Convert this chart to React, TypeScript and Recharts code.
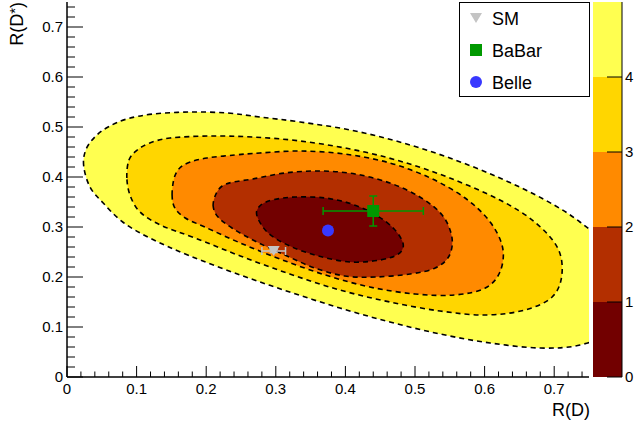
import React from 'react';
import { Bar, BarChart, ErrorBar, Label, Scatter, ScatterChart, XAxis, YAxis } from 'recharts';

const FONT = '"Liberation Sans", Arial, Helvetica, sans-serif';

// colour scale (sigma levels) of the contour plot
const levels = [0, 1, 2, 3, 4];
const levelColors = ['#720000', '#b32f00', '#ff8a00', '#ffd600', '#ffff50'];

// contour lines, [R(D), R(D*)], outer first
const contour4 = [
  [0.024, 0.422], [0.027, 0.454], [0.040, 0.48], [0.059, 0.5], [0.086, 0.516], [0.124, 0.526],
  [0.177, 0.53], [0.23, 0.528], [0.277, 0.52], [0.335, 0.51], [0.407, 0.494], [0.478, 0.47],
  [0.55, 0.438], [0.622, 0.398], [0.687, 0.354], [0.737, 0.31], [0.78, 0.254], [0.795, 0.174],
  [0.78, 0.094], [0.737, 0.064], [0.68, 0.058], [0.608, 0.068], [0.536, 0.086], [0.464, 0.11],
  [0.392, 0.138], [0.32, 0.17], [0.249, 0.204], [0.177, 0.242], [0.119, 0.278], [0.08, 0.31],
  [0.052, 0.348], [0.033, 0.38],
];
const contour3 = [
  [0.086, 0.398], [0.089, 0.434], [0.101, 0.454], [0.119, 0.468], [0.148, 0.478], [0.205, 0.482],
  [0.267, 0.48], [0.335, 0.472], [0.407, 0.456], [0.478, 0.432], [0.55, 0.398], [0.622, 0.354],
  [0.672, 0.31], [0.705, 0.258], [0.711, 0.204], [0.697, 0.16], [0.658, 0.134], [0.601, 0.124],
  [0.536, 0.132], [0.464, 0.15], [0.392, 0.174], [0.32, 0.206], [0.249, 0.242], [0.184, 0.278],
  [0.134, 0.304], [0.105, 0.33], [0.091, 0.362],
];
const contour2 = [
  [0.151, 0.364], [0.154, 0.398], [0.162, 0.418], [0.177, 0.43], [0.201, 0.438], [0.241, 0.444],
  [0.277, 0.448], [0.335, 0.452], [0.399, 0.446], [0.464, 0.428], [0.522, 0.398], [0.572, 0.358],
  [0.608, 0.31], [0.626, 0.258], [0.622, 0.21], [0.601, 0.178], [0.557, 0.164], [0.5, 0.166],
  [0.435, 0.18], [0.371, 0.204], [0.306, 0.236], [0.249, 0.268], [0.198, 0.3], [0.17, 0.318],
  [0.155, 0.338],
];
const contour1 = [
  [0.21, 0.342], [0.214, 0.366], [0.223, 0.382], [0.239, 0.39], [0.267, 0.396], [0.313, 0.408],
  [0.364, 0.412], [0.414, 0.406], [0.464, 0.388], [0.507, 0.36], [0.539, 0.324], [0.553, 0.28],
  [0.549, 0.242], [0.529, 0.218], [0.493, 0.206], [0.443, 0.2], [0.399, 0.202], [0.356, 0.218],
  [0.313, 0.244], [0.27, 0.272], [0.237, 0.298], [0.217, 0.32],
];
const contour0 = [
  [0.273, 0.322], [0.277, 0.342], [0.295, 0.354], [0.328, 0.36], [0.371, 0.358], [0.409, 0.346],
  [0.444, 0.324], [0.47, 0.296], [0.483, 0.266], [0.476, 0.246], [0.45, 0.234], [0.407, 0.23],
  [0.361, 0.242], [0.32, 0.262], [0.289, 0.288],
];
const contours = [contour4, contour3, contour2, contour1, contour0];
const contourColors = [levelColors[4], levelColors[3], levelColors[2], levelColors[1], levelColors[0]];

// measurements
const pointNames = ['SM', 'BaBar', 'Belle'];
const rD = [0.297, 0.44, 0.375];
const rDErr = [0.017, 0.072, 0];
const rDstar = [0.252, 0.332, 0.293];
const rDstarErr = [0.003, 0.03, 0];
const pointColors = ['#c4c4c4', '#009900', '#3838ff'];

const axisTicks = Array.from({ length: 38 }, (_, i) => Number((i * 0.02).toFixed(2)));
const isMajor = (v: number) => Math.abs(v * 10 - Math.round(v * 10)) < 1e-6;
const fmt = (v: number) => (v === 0 ? '0' : String(Number(v.toFixed(1))));

const closedPath = (pts: { x: number; y: number }[]) => {
  const n = pts.length;
  if (!n) return '';
  let d = `M${pts[0].x},${pts[0].y}`;
  for (let i = 0; i < n; i++) {
    const p0 = pts[(i - 1 + n) % n];
    const p1 = pts[i];
    const p2 = pts[(i + 1) % n];
    const p3 = pts[(i + 2) % n];
    d += ` C${p1.x + (p2.x - p0.x) / 6},${p1.y + (p2.y - p0.y) / 6} ${p2.x - (p3.x - p1.x) / 6},${p2.y - (p3.y - p1.y) / 6} ${p2.x},${p2.y}`;
  }
  return d + 'Z';
};

const Marker = ({ name, cx, cy, color }: { name: string; cx: number; cy: number; color: string }) => {
  if (name === 'SM') {
    return <polygon points={`${cx - 6},${cy - 5} ${cx + 6},${cy - 5} ${cx},${cy + 5}`} fill={color} />;
  }
  if (name === 'BaBar') {
    return <rect x={cx - 6} y={cy - 6} width={12} height={12} fill={color} />;
  }
  return <circle cx={cx} cy={cy} r={6} fill={color} />;
};

const XTick = (props: any) => {
  const { x, y, payload } = props;
  const major = isMajor(payload.value);
  return (
    <g>
      <line x1={x} x2={x} y1={y} y2={y - (major ? 11 : 5.5)} stroke="#000" />
      {major && (
        <text x={x} y={y + 17} textAnchor="middle" fontSize={15} fontFamily={FONT} fill="#000">
          {fmt(payload.value)}
        </text>
      )}
    </g>
  );
};

const YTick = (props: any) => {
  const { x, y, payload } = props;
  const major = isMajor(payload.value);
  return (
    <g>
      <line x1={x} x2={x + (major ? 16 : 8)} y1={y} y2={y} stroke="#000" />
      {major && (
        <text x={x - 4} y={y + 5} textAnchor="end" fontSize={15} fontFamily={FONT} fill="#000">
          {fmt(payload.value)}
        </text>
      )}
    </g>
  );
};

const ZTick = (props: any) => {
  const { x, y, payload } = props;
  return (
    <g>
      <line x1={x - 3} x2={x - 18} y1={y} y2={y} stroke="#000" />
      <text x={x} y={y + 5} fontSize={15} fontFamily={FONT} fill="#000">
        {payload.value}
      </text>
    </g>
  );
};

const XTitle = (props: any) => {
  const vb = props.viewBox || { x: 67, y: 377, width: 522, height: 30 };
  return (
    <text x={vb.x + vb.width + 1} y={vb.y + 39} textAnchor="end" fontSize={18} fontFamily={FONT} fill="#000">
      R(D)
    </text>
  );
};

const YTitle = (props: any) => {
  const vb = props.viewBox || { x: 7, y: 2, width: 60, height: 375 };
  const x = vb.x + 16;
  const y = vb.y;
  return (
    <text x={x} y={y} transform={`rotate(-90 ${x} ${y})`} textAnchor="end" fontSize={18} fontFamily={FONT} fill="#000">
      R(D<tspan dy={-3} fontSize={15}>*</tspan>
      <tspan dy={3}>)</tspan>
    </text>
  );
};

const LegendBox = () => (
  <svg width={132} height={96} style={{ display: 'block' }}>
    <rect x={0.5} y={0.5} width={130} height={94} fill="#fff" stroke="#000" />
    {pointNames.map((name, i) => {
      const cy = 16 + i * 32;
      return (
        <g key={name}>
          <Marker name={name} cx={17} cy={cy} color={pointColors[i]} />
          <text x={33} y={cy + 6.5} fontSize={18} fontFamily={FONT} fill="#000">
            {name}
          </text>
        </g>
      );
    })}
  </svg>
);

const colorRow: Record<string, number | string> = { name: 'z' };
levels.forEach((l) => {
  colorRow[`l${l}`] = 1;
});

export default function App() {
  return (
    <div style={{ position: 'absolute', left: 0, top: 0, width: 636, height: 430, background: '#fff' }}>
      <div style={{ position: 'absolute', left: 0, top: 0 }}>
        <ScatterChart width={636} height={430} margin={{ top: 2, right: 47, bottom: 23, left: 7 }}>
          <XAxis
            type="number"
            dataKey="x"
            domain={[0, 0.75]}
            allowDataOverflow
            ticks={axisTicks}
            interval={0}
            height={30}
            tickSize={0}
            tickMargin={0}
            tickLine={false}
            tick={<XTick />}
            axisLine={{ stroke: '#000', strokeWidth: 1.5 }}
          >
            <Label content={<XTitle />} />
          </XAxis>
          <YAxis
            type="number"
            dataKey="y"
            domain={[0, 0.75]}
            allowDataOverflow
            ticks={axisTicks}
            interval={0}
            width={60}
            tickSize={0}
            tickMargin={0}
            tickLine={false}
            tick={<YTick />}
            axisLine={{ stroke: '#000', strokeWidth: 1.5 }}
          >
            <Label content={<YTitle />} />
          </YAxis>
          <YAxis
            yAxisId="frame"
            orientation="right"
            type="number"
            domain={[0, 1]}
            width={0}
            tick={false}
            tickLine={false}
            axisLine={{ stroke: '#000', strokeWidth: 1 }}
          />
          {contours.map((c, i) => (
            <Scatter
              key={`c${i}`}
              name={`contour${i}`}
              data={c.map(([x, y]) => ({ x, y }))}
              fill={contourColors[i]}
              legendType="none"
              isAnimationActive={false}
              zIndex={100}
              shape={() => <g />}
              line={(p: any) => (
                <path
                  d={closedPath(p.points || [])}
                  fill={contourColors[i]}
                  stroke="#000"
                  strokeWidth={1.6}
                  strokeDasharray="5 4"
                />
              )}
            />
          ))}
          {pointNames.map((name, i) => (
            <Scatter
              key={name}
              name={name}
              data={[{ x: rD[i], y: rDstar[i], ex: rDErr[i], ey: rDstarErr[i] }]}
              fill={pointColors[i]}
              isAnimationActive={false}
              zIndex={700}
              shape={(p: any) => <Marker name={name} cx={p.cx} cy={p.cy} color={pointColors[i]} />}
            >
              {rDErr[i] > 0 && (
                <ErrorBar
                  dataKey="ex"
                  direction="x"
                  width={4}
                  stroke={pointColors[i]}
                  strokeWidth={1.5}
                  isAnimationActive={false}
                  zIndex={650}
                />
              )}
              {rDstarErr[i] > 0 && (
                <ErrorBar
                  dataKey="ey"
                  direction="y"
                  width={4}
                  stroke={pointColors[i]}
                  strokeWidth={1.5}
                  isAnimationActive={false}
                  zIndex={650}
                />
              )}
            </Scatter>
          ))}
        </ScatterChart>
      </div>
      <div style={{ position: 'absolute', left: 0, top: 0 }}>
        <BarChart
          width={636}
          height={430}
          data={[colorRow]}
          margin={{ top: 2, right: 0, bottom: 53, left: 593 }}
          barCategoryGap={0}
          barGap={0}
        >
          <XAxis dataKey="name" hide />
          <YAxis
            orientation="right"
            type="number"
            domain={[0, 5]}
            allowDataOverflow
            ticks={levels}
            interval={0}
            width={14}
            tickSize={0}
            tickMargin={3}
            tickLine={false}
            tick={<ZTick />}
            axisLine={{ stroke: '#000' }}
          />
          {levels.map((l, i) => (
            <Bar key={l} dataKey={`l${l}`} stackId="z" fill={levelColors[i]} isAnimationActive={false} />
          ))}
        </BarChart>
      </div>
      <div style={{ position: 'absolute', left: 459, top: 2 }}>
        <LegendBox />
      </div>
    </div>
  );
}
